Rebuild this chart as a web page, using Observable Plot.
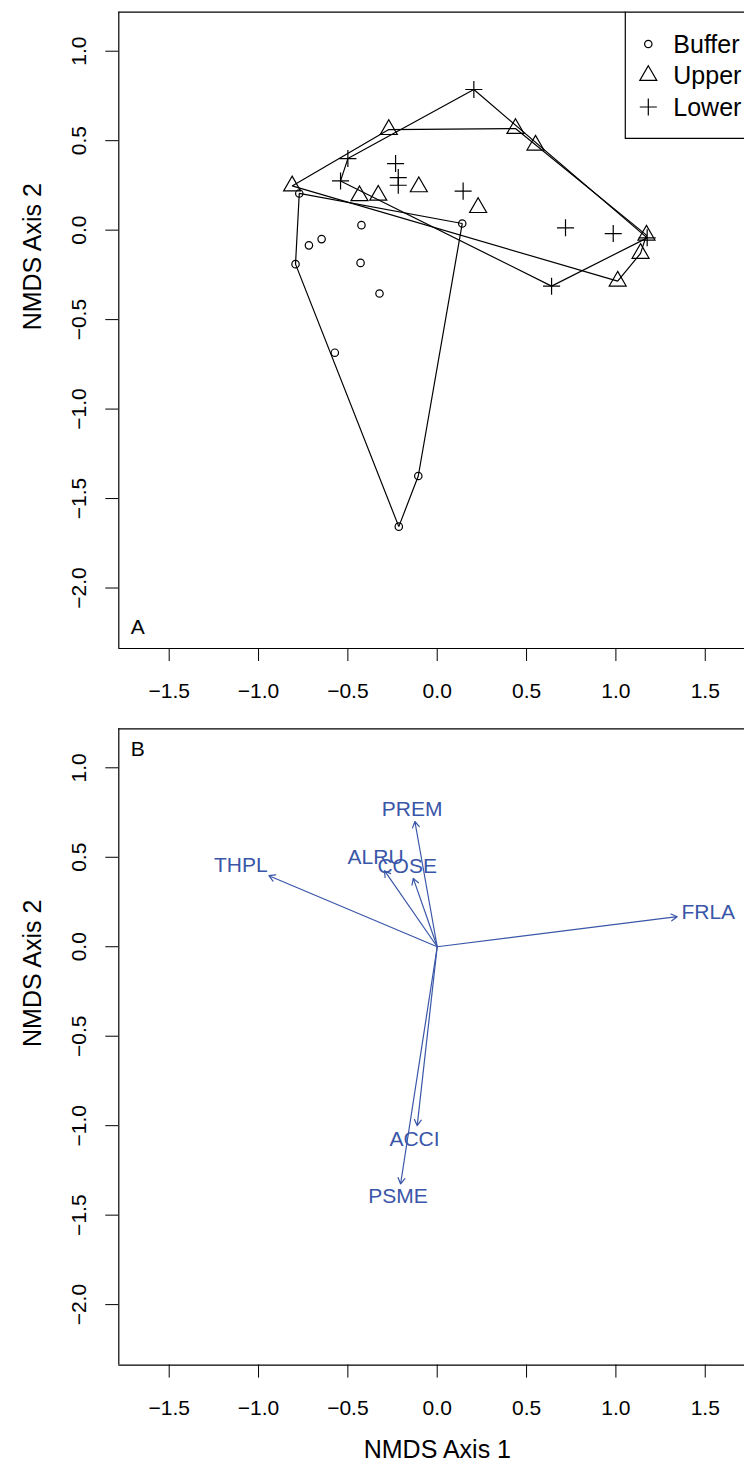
<!DOCTYPE html>
<html><head><meta charset="utf-8">
<script src="https://cdn.jsdelivr.net/npm/d3@7"></script>
<script src="https://cdn.jsdelivr.net/npm/@observablehq/plot@0.6"></script>
<style>
html,body{margin:0;padding:0;background:#fff;overflow:hidden;}
#chart svg{display:block;}
</style></head><body><div id="chart"></div>
<script>
// ---- Panel A: NMDS site scores by group ----
const groups = ["Buffer", "Upper", "Lower"];
const bufferX = [-0.772, -0.424, -0.647, -0.718, -0.793, -0.429, -0.323, 0.140, -0.573, -0.106, -0.215];
const bufferY = [0.205, 0.028, -0.050, -0.085, -0.190, -0.183, -0.354, 0.037, -0.685, -1.374, -1.657];
const upperX = [-0.812, -0.271, 0.438, 0.550, 1.171, 1.138, 1.010, -0.435, -0.330, -0.103, 0.229];
const upperY = [0.247, 0.562, 0.568, 0.475, -0.028, -0.130, -0.285, 0.192, 0.195, 0.242, 0.126];
const lowerX = [0.205, -0.500, -0.541, -0.233, -0.218, -0.218, 0.145, 0.640, 0.718, 0.985, 1.175];
const lowerY = [0.786, 0.400, 0.275, 0.372, 0.294, 0.251, 0.218, -0.313, 0.013, -0.019, -0.043];

// ---- Panel B: envfit species vectors ----
const species = ["THPL", "ALRU", "COSE", "PREM", "FRLA", "ACCI", "PSME"];
const arrowX = [-0.942, -0.295, -0.134, -0.125, 1.343, -0.112, -0.205];
const arrowY = [0.397, 0.425, 0.382, 0.700, 0.168, -1.000, -1.326];
const labelX = [-1.099, -0.345, -0.168, -0.140, 1.517, -0.127, -0.220];
const labelY = [0.458, 0.499, 0.449, 0.769, 0.192, -1.078, -1.397];

// ---- axes ----
const xTicks = [-1.5, -1.0, -0.5, 0.0, 0.5, 1.0, 1.5];
const yTicks = [1.0, 0.5, 0.0, -0.5, -1.0, -1.5, -2.0];
const xDomain = [-1.782, 1.7197];
const yDomain = [-2.338, 1.218];
const xTitle = "NMDS Axis 1";
const yTitle = "NMDS Axis 2";

const points = [
  ...bufferX.map((x, i) => ({group: "Buffer", x, y: bufferY[i]})),
  ...upperX.map((x, i) => ({group: "Upper", x, y: upperY[i]})),
  ...lowerX.map((x, i) => ({group: "Lower", x, y: lowerY[i]}))
];
const vectors = species.map((name, i) => ({name, x: arrowX[i], y: arrowY[i], lx: labelX[i], ly: labelY[i]}));

const W = 744;
const FONT = "'Liberation Sans', Arial, Helvetica, sans-serif";
const BLUE = "#3A56A8";
const LW = 1.2;
const fmt = d3.format(".1f");

const symbolSpec = {
  Buffer: {symbol: "circle", r: 3.7, d3sym: d3.symbolCircle},
  Upper: {symbol: "triangle", r: 6.3, d3sym: d3.symbolTriangle},
  Lower: {symbol: "plus", r: 5.55, d3sym: d3.symbolPlus}
};

function frameMarks() {
  return [
    Plot.ruleX([xDomain[0]], {stroke: "black", strokeWidth: LW}),
    Plot.ruleY([yDomain[0], yDomain[1]], {stroke: "black", strokeWidth: LW})
  ];
}

function yTitleMark() {
  return Plot.text([yTitle], {frameAnchor: "left", text: d => d, rotate: -90, dx: -86.3, fontSize: 25, fill: "black"});
}

function legendMark(index, scales, values, dimensions) {
  const {width, marginTop} = dimensions;
  const g = d3.create("svg:g");
  g.append("path")
    .attr("d", `M${width + 20},${marginTop + 126.6}H${width - 118.7}V${marginTop}`)
    .attr("fill", "none").attr("stroke", "black").attr("stroke-width", LW);
  const rows = [44, 75.5, 107];
  groups.forEach((name, i) => {
    const s = symbolSpec[name];
    g.append("path")
      .attr("transform", `translate(${width - 95.7},${rows[i]})`)
      .attr("d", d3.symbol(s.d3sym, Math.PI * s.r * s.r)())
      .attr("fill", "none").attr("stroke", "black").attr("stroke-width", LW);
    g.append("text")
      .attr("x", width - 70.7).attr("y", rows[i]).attr("dy", "0.35em")
      .attr("font-size", 25).attr("fill", "black").attr("text-anchor", "start")
      .text(name);
  });
  return g.node();
}

function makePlot({height, marginTop, marginBottom, marks}) {
  return Plot.plot({
    width: W, height, marginLeft: 118.3, marginRight: 0, marginTop, marginBottom,
    style: {fontFamily: FONT, fontSize: "21px", background: "white", color: "black"},
    x: {domain: xDomain, ticks: xTicks, tickSize: 13, tickPadding: 22, tickFormat: fmt, label: null},
    y: {domain: yDomain, ticks: yTicks, tickSize: 13, tickPadding: 20, tickRotate: -90, tickFormat: fmt, label: null},
    marks: [...frameMarks(), ...marks]
  });
}

const plotA = makePlot({
  height: 720, marginTop: 11.7, marginBottom: 72,
  marks: [
    Plot.hull(points, {x: "x", y: "y", z: "group", stroke: "black", strokeWidth: LW}),
    ...groups.map(g => Plot.dot(points.filter(p => p.group === g), {
      x: "x", y: "y", symbol: symbolSpec[g].symbol, r: symbolSpec[g].r,
      stroke: "black", fill: "none", strokeWidth: LW
    })),
    Plot.text(["A"], {frameAnchor: "bottom-left", text: d => d, dx: 12, dy: -15, textAnchor: "start", lineAnchor: "bottom", fill: "black"}),
    yTitleMark(),
    legendMark
  ]
});

const plotB = makePlot({
  height: 749, marginTop: 8.3, marginBottom: 104.4,
  marks: [
    Plot.arrow(vectors, {x1: d => 0, y1: d => 0, x2: "x", y2: "y", stroke: BLUE, strokeWidth: LW, headLength: 8.5, headAngle: 60}),
    Plot.text(vectors, {x: "lx", y: "ly", text: "name", fill: BLUE, fontSize: 21}),
    Plot.text(["B"], {frameAnchor: "top-left", text: d => d, dx: 12, dy: 12, textAnchor: "start", lineAnchor: "top", fill: "black"}),
    yTitleMark(),
    Plot.text([xTitle], {frameAnchor: "bottom", text: d => d, dx: 5.7, dy: 92.5, fontSize: 25, fill: "black"})
  ]
});

document.getElementById("chart").append(plotA, plotB);
</script>
</body></html>
